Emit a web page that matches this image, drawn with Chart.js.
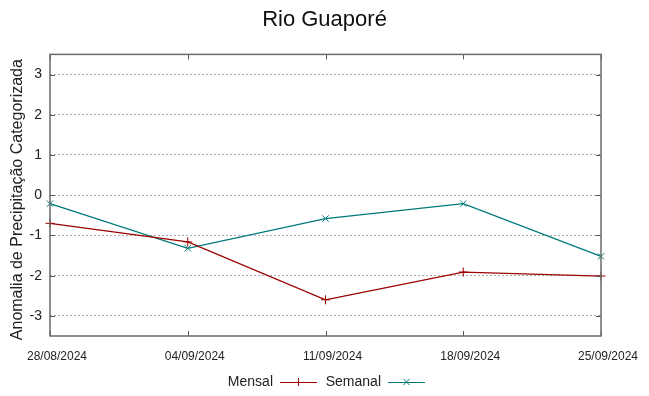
<!DOCTYPE html>
<html>
<head>
<meta charset="utf-8">
<script src="https://cdn.jsdelivr.net/npm/chart.js@4.4.1/dist/chart.umd.min.js"></script>
<style>
  html, body { margin: 0; padding: 0; background: #fff; }
  #wrap { width: 649px; height: 396px; }
</style>
</head>
<body>
<div id="wrap"><canvas id="chart" width="649" height="396"></canvas></div>
<script>
// Dates on the x axis
const dates = ["28/08/2024", "04/09/2024", "11/09/2024", "18/09/2024", "25/09/2024"];

// Anomaly values
const mensal = [-0.70, -1.16, -2.60, -1.91, -2.01];
const semanal = [-0.21, -1.32, -0.58, -0.21, -1.52];

// y tick values
const yTicks = [-3, -2, -1, 0, 1, 2, 3];

const red = "#9c0000";
const teal = "#00797b";
const fontName = "'Liberation Sans', Arial, sans-serif";

// box round the plot with inward tick marks on every side
const frame = {
    id: "frame",
    afterDatasetsDraw(chart) {
        const { ctx, chartArea: a, scales } = chart;
        ctx.save();
        ctx.strokeStyle = "#555";
        ctx.lineWidth = 1;
        ctx.beginPath();
        dates.forEach((d, i) => {
            const x = Math.round(scales.x.getPixelForValue(i)) + 0.5;
            ctx.moveTo(x, a.bottom); ctx.lineTo(x, a.bottom - 5);
            ctx.moveTo(x, a.top); ctx.lineTo(x, a.top + 5);
        });
        yTicks.forEach(v => {
            const y = Math.round(scales.y.getPixelForValue(v)) + 0.5;
            ctx.moveTo(a.left, y); ctx.lineTo(a.left + 5, y);
            ctx.moveTo(a.right, y); ctx.lineTo(a.right - 5, y);
        });
        ctx.stroke();
        ctx.strokeStyle = "#6a6a6a";
        ctx.lineWidth = 1.5;
        ctx.strokeRect(a.left, a.top, a.right - a.left, a.bottom - a.top);
        ctx.restore();
    },
};

// gnuplot style key: text first, then the line sample
const key = {
    id: "key",
    afterDraw(chart) {
        const ctx = chart.ctx;
        const y = 382;
        const slots = [273, 381];
        ctx.save();
        ctx.font = "14px " + fontName;
        ctx.textAlign = "right";
        ctx.textBaseline = "middle";
        chart.data.datasets.forEach((ds, i) => {
            const tx = slots[i];
            ctx.fillStyle = "#222";
            ctx.fillText(ds.label, tx, y);
            const x0 = tx + 7, x1 = tx + 44, xm = (x0 + x1) / 2;
            ctx.strokeStyle = ds.borderColor;
            ctx.lineWidth = 1;
            ctx.beginPath();
            ctx.moveTo(x0, y + 0.5); ctx.lineTo(x1, y + 0.5);
            if (ds.pointStyle === "cross") {
                ctx.moveTo(xm, y - 4); ctx.lineTo(xm, y + 4);
            } else {
                ctx.moveTo(xm - 3, y - 3); ctx.lineTo(xm + 3, y + 3);
                ctx.moveTo(xm - 3, y + 3); ctx.lineTo(xm + 3, y - 3);
            }
            ctx.stroke();
        });
        ctx.restore();
    },
};

new Chart(document.getElementById("chart"), {
    type: "line",
    plugins: [frame, key],
    data: {
        labels: dates,
        datasets: [
            {
                label: "Mensal",
                data: mensal,
                borderColor: red,
                backgroundColor: red,
                borderWidth: 1.3,
                pointStyle: "cross",
                pointRadius: 4.5,
                pointBorderWidth: 1,
                tension: 0,
            },
            {
                label: "Semanal",
                data: semanal,
                borderColor: teal,
                backgroundColor: teal,
                borderWidth: 1.3,
                pointStyle: "crossRot",
                pointRadius: 4.5,
                pointBorderWidth: 1,
                tension: 0,
            },
        ],
    },
    options: {
        responsive: false,
        animation: false,
        layout: { padding: { left: 0, right: 0, top: 0, bottom: 30 } },
        plugins: {
            legend: { display: false },
            tooltip: { enabled: false },
            title: {
                display: true,
                text: "Rio Guaporé",
                color: "#111",
                font: { family: fontName, size: 22, weight: "normal" },
                padding: { top: 7, bottom: 21 },
            },
        },
        scales: {
            x: {
                offset: false,
                grid: { display: false, drawTicks: false },
                border: { display: false },
                afterFit: (s) => { s.height = 30; },
                ticks: {
                    color: "#222",
                    font: { family: fontName, size: 12 },
                    padding: 13,
                    labelOffset: 7,
                    maxRotation: 0,
                    autoSkip: false,
                },
            },
            y: {
                min: -3.5,
                max: 3.5,
                afterFit: (s) => { s.width = 50; },
                afterBuildTicks: (s) => { s.ticks = yTicks.map(v => ({ value: v })); },
                grid: { color: "#a8a8a8", drawTicks: false, lineWidth: 1 },
                border: { display: false, dash: [2, 2] },
                ticks: {
                    color: "#222",
                    font: { family: fontName, size: 14 },
                    padding: 8,
                },
                title: {
                    display: true,
                    text: "Anomalia de Precipitação Categorizada  ",
                    color: "#222",
                    font: { family: fontName, size: 16 },
                    padding: { top: 8, bottom: 0 },
                },
            },
            // empty right-hand axis that only reserves the margin
            y2: {
                position: "right",
                min: -3.5,
                max: 3.5,
                afterFit: (s) => { s.width = 48; },
                grid: { display: false, drawTicks: false },
                border: { display: false },
                ticks: { display: false },
            },
        },
    },
});
</script>
</body>
</html>
